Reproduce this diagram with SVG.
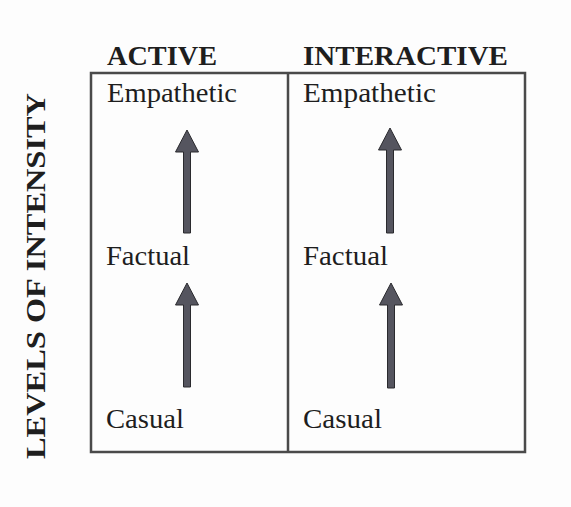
<svg xmlns="http://www.w3.org/2000/svg" width="571" height="507" viewBox="0 0 571 507">
  <style>
    .head { font-family: "Liberation Serif", "Times New Roman", serif; font-weight: bold; font-size: 27px; fill: #1e1e1e; }
    .lvl { font-family: "Liberation Serif", "Times New Roman", serif; font-size: 27px; fill: #1e1e1e; }
    .frame { fill: none; stroke: #4a4a4a; stroke-width: 2.5; }
    .arrow { fill: #55555f; stroke: #2a2a2e; stroke-width: 1; }
  </style>
  <defs>
    <!-- upward block arrow: tip at (0,0), head 23 wide, 21 tall, shaft 7 wide -->
    <symbol id="up" overflow="visible">
      <path d="M0 0 L11.5 21 L3.5 21 L3.5 82 L-3.5 82 L-3.5 21 L-11.5 21 Z"/>
    </symbol>
  </defs>
  <rect x="0" y="0" width="571" height="507" fill="#fdfdfd"/>

  <!-- axis title -->
  <g id="axis">
    <text class="head" transform="translate(45 276) rotate(-90)" text-anchor="middle" textLength="366" lengthAdjust="spacingAndGlyphs">LEVELS OF INTENSITY</text>
  </g>

  <!-- column headings -->
  <g id="col-active">
    <text class="head" x="107" y="65" textLength="110" lengthAdjust="spacingAndGlyphs">ACTIVE</text>
  </g>
  <g id="col-interactive">
    <text class="head" x="303" y="65" textLength="205" lengthAdjust="spacingAndGlyphs">INTERACTIVE</text>
  </g>

  <!-- grid -->
  <g id="grid">
    <rect class="frame" x="91" y="73" width="434" height="379"/>
    <line class="frame" x1="288" y1="73" x2="288" y2="452"/>
  </g>

  <!-- level labels, active column -->
  <g id="active-empathetic"><text class="lvl" x="107" y="102" textLength="130" lengthAdjust="spacingAndGlyphs">Empathetic</text></g>
  <g id="active-factual"><text class="lvl" x="106" y="265" textLength="84" lengthAdjust="spacingAndGlyphs">Factual</text></g>
  <g id="active-casual"><text class="lvl" x="106" y="428" textLength="78" lengthAdjust="spacingAndGlyphs">Casual</text></g>

  <!-- level labels, interactive column -->
  <g id="inter-empathetic"><text class="lvl" x="303" y="102" textLength="133" lengthAdjust="spacingAndGlyphs">Empathetic</text></g>
  <g id="inter-factual"><text class="lvl" x="303" y="265" textLength="85" lengthAdjust="spacingAndGlyphs">Factual</text></g>
  <g id="inter-casual"><text class="lvl" x="303" y="428" textLength="79" lengthAdjust="spacingAndGlyphs">Casual</text></g>

  <!-- arrows between levels -->
  <g id="connectors" class="arrow">
    <path d="M187 130 L198.5 152 L190.5 152 L190.5 233 L183.5 233 L183.5 152 L175.5 152 Z"/>
    <path d="M187 283 L198.5 305 L190.5 305 L190.5 387 L183.5 387 L183.5 305 L175.5 305 Z"/>
    <path d="M390 128 L401.5 150 L393.5 150 L393.5 233 L386.5 233 L386.5 150 L378.5 150 Z"/>
    <path d="M391 283 L402.5 305 L394.5 305 L394.5 388 L387.5 388 L387.5 305 L379.5 305 Z"/>
  </g>
</svg>
